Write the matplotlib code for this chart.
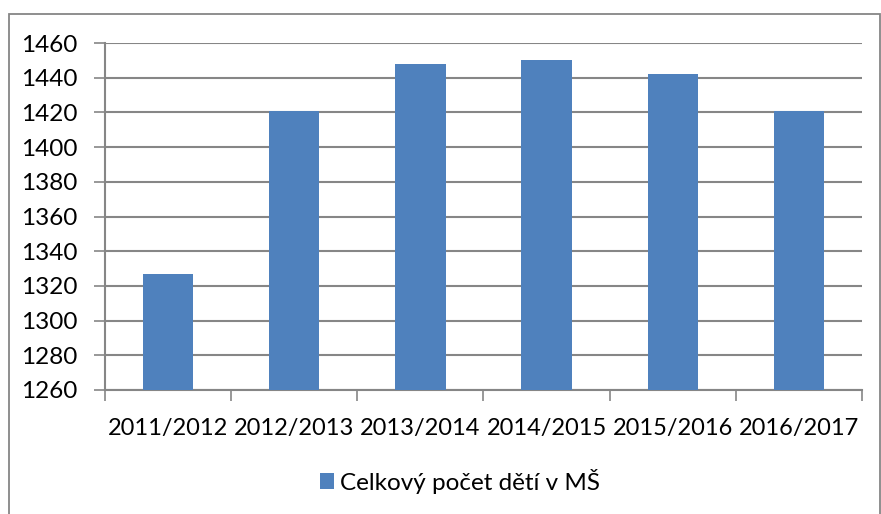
import matplotlib
matplotlib.use("Agg")
import matplotlib.pyplot as plt
from matplotlib.patches import Rectangle, Patch

# data
years = ["2011/2012", "2012/2013", "2013/2014", "2014/2015", "2015/2016", "2016/2017"]
children = [1327, 1421, 1448, 1450, 1442, 1421]
series_name = "Celkový počet dětí v MŠ"
y_ticks = list(range(1260, 1461, 20))

BAR = "#4F81BD"
GRID = "#868686"
W_PX, H_PX = 881, 514

plt.rcParams["font.family"] = ["Lato", "DejaVu Sans"]

fig = plt.figure(figsize=(W_PX / 100, H_PX / 100), dpi=100)
ax = fig.add_axes([105 / W_PX, 1 - 390 / H_PX, (862 - 105) / W_PX, (390 - 43) / H_PX])

xs = list(range(len(years)))
ax.bar(xs, children, width=0.4, color=BAR, zorder=3)

ax.set_xlim(-0.5, len(years) - 0.5)
ax.set_ylim(1260, 1460)
ax.set_yticks(y_ticks)
ax.yaxis.grid(True, color=GRID, lw=1.5, zorder=0)

# category boundary ticks, labels centred
ax.set_xticks([i - 0.5 for i in range(len(years) + 1)])
ax.set_xticklabels([])
ax.set_xticks(xs, minor=True)
ax.set_xticklabels(years, minor=True, fontsize=17)
ax.tick_params(axis="x", which="minor", length=0, pad=20)
ax.tick_params(axis="x", which="major", length=8, width=1.2, color=GRID, direction="out")
ax.tick_params(axis="y", length=8, width=1.2, color=GRID, direction="out", pad=12, labelsize=17.5)

for side in ("top", "right"):
    ax.spines[side].set_visible(False)
for side in ("left", "bottom"):
    ax.spines[side].set_color(GRID)
    ax.spines[side].set_linewidth(1.5)

# legend under the plot
leg = fig.legend(handles=[Patch(facecolor=BAR, label=series_name)],
                 loc="center", bbox_to_anchor=(460 / W_PX, 1 - 481 / H_PX),
                 frameon=False, fontsize=17.5, handlelength=0.6, handleheight=0.6,
                 handletextpad=0.25)

# chart area border
fig.patches.append(Rectangle((9 / W_PX, -0.1), (880 - 9) / W_PX, 1.1 - 14 / H_PX,
                             transform=fig.transFigure, fill=False,
                             edgecolor=GRID, lw=1.3))

fig.savefig("out.png", dpi=100)
